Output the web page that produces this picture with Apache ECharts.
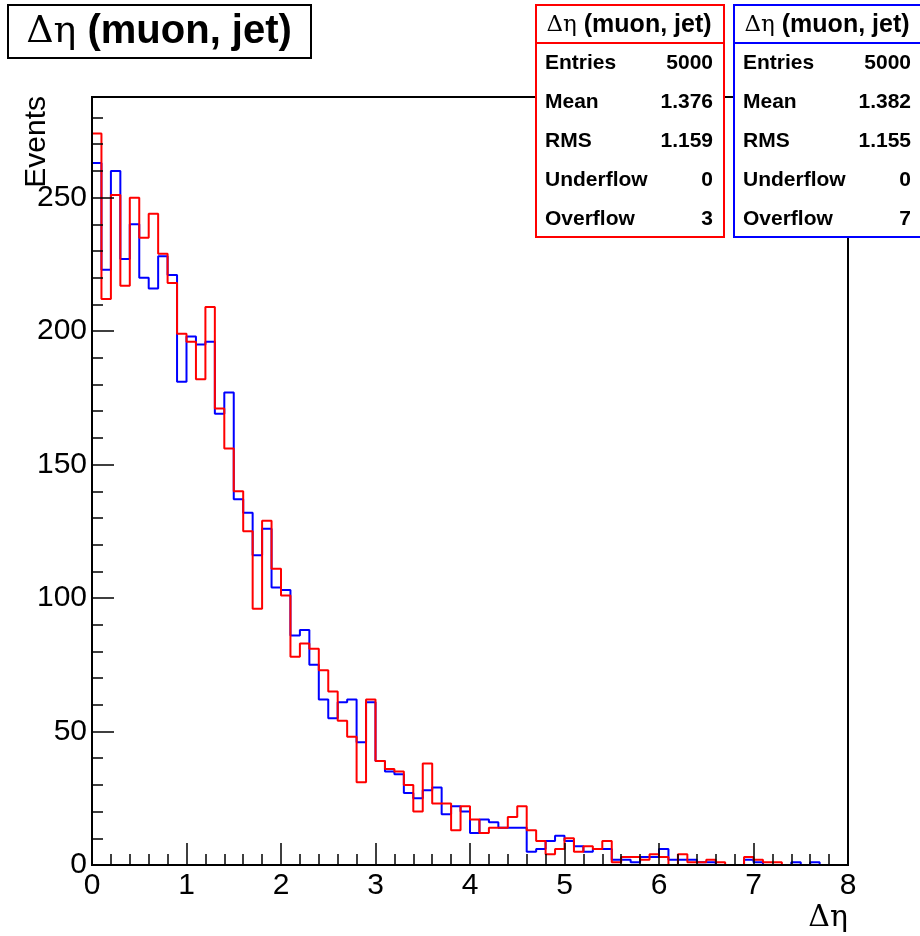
<!DOCTYPE html>
<html>
<head>
<meta charset="utf-8">
<title>Δη (muon, jet)</title>
<script src="https://cdn.jsdelivr.net/npm/echarts@6/dist/echarts.min.js"></script>
<style>
  html, body { margin: 0; padding: 0; background: #fff; }
  #chart { width: 920px; height: 936px; }
</style>
</head>
<body>
<div id="chart"></div>
<script>
// histogram binning: 80 bins from 0 to 8
const nBins = 80;
const xMin = 0;
const xMax = 8;
const yMax = 287.7;

// red histogram contents, bin by bin
const redCounts = [
  274, 212, 251, 217, 250, 235, 244, 229, 218, 199,
  196, 182, 209, 171, 156, 140, 125, 96, 129, 111,
  101, 78, 83, 81, 73, 65, 54, 48, 31, 62,
  39, 36, 35, 30, 20, 38, 23, 23, 13, 22,
  17, 12, 14, 14, 18, 22, 13, 9, 4, 6,
  10, 5, 7, 6, 9, 1, 3, 3, 2, 4,
  3, 0, 4, 1, 1, 2, 1, 0, 0, 3,
  2, 1, 1, 0, 0, 0, 0, 0, 0, 0
];

// blue histogram contents, bin by bin
const blueCounts = [
  263, 223, 260, 227, 240, 220, 216, 228, 221, 181,
  198, 195, 196, 169, 177, 137, 132, 116, 126, 104,
  103, 86, 88, 75, 62, 55, 61, 62, 46, 61,
  39, 35, 34, 27, 25, 28, 29, 19, 22, 20,
  12, 17, 16, 14, 14, 14, 5, 6, 9, 11,
  9, 7, 5, 6, 6, 2, 2, 1, 3, 3,
  6, 2, 2, 2, 1, 1, 0, 0, 0, 2,
  1, 0, 0, 0, 1, 0, 1, 0, 0, 0
];

// stats boxes
const statLabels = ['Entries', 'Mean', 'RMS', 'Underflow', 'Overflow'];
const redStats = ['5000', '1.376', '1.159', '0', '3'];
const blueStats = ['5000', '1.382', '1.155', '0', '7'];

const FONT = '"Liberation Sans", Arial, Helvetica, sans-serif';
const SYMBOL_FONT = '"DejaVu Serif", "Liberation Serif", serif';

// turn bin contents into outline points (left edges, closed to zero at both ends)
function outline(counts) {
  const w = (xMax - xMin) / nBins;
  const pts = [[xMin, 0]];
  counts.forEach((c, i) => pts.push([+(xMin + i * w).toFixed(3), c]));
  pts.push([xMax, counts[counts.length - 1]]);
  pts.push([xMax, 0]);
  return pts;
}

function statsBox(left, width, color, values) {
  const els = [];
  els.push({
    type: 'rect', z: 100,
    shape: { x: left, y: 5, width: width, height: 232 },
    style: { fill: '#fff', stroke: color, lineWidth: 2 }
  });
  els.push({
    type: 'line', z: 101,
    shape: { x1: left, y1: 43, x2: left + width, y2: 43 },
    style: { stroke: color, lineWidth: 2 }
  });
  els.push({
    type: 'text', z: 102, x: left + 93, y: 25,
    style: {
      text: '{s|Δη}{b| (muon, jet)}',
      align: 'center', verticalAlign: 'middle',
      rich: {
        s: { fontFamily: SYMBOL_FONT, fontSize: 23, fill: '#000' },
        b: { fontFamily: FONT, fontWeight: 'bold', fontSize: 25, fill: '#000' }
      }
    }
  });
  statLabels.forEach((lab, i) => {
    const y = 63 + i * 39;
    els.push({
      type: 'text', z: 102, x: left + 9, y: y,
      style: { text: lab, font: 'bold 21px ' + FONT, fill: '#000', align: 'left', verticalAlign: 'middle' }
    });
    els.push({
      type: 'text', z: 102, x: left + 177, y: y,
      style: { text: values[i], font: 'bold 21px ' + FONT, fill: '#000', align: 'right', verticalAlign: 'middle' }
    });
  });
  return els;
}

const chart = echarts.init(document.getElementById('chart'), null, { renderer: 'canvas' });

const option = {
  animation: false,
  backgroundColor: '#fff',
  grid: {
    left: 92, top: 97, right: 72, bottom: 71,
    show: true, borderColor: '#000', borderWidth: 2, backgroundColor: '#fff'
  },
  xAxis: {
    type: 'value', min: xMin, max: xMax, interval: 1, z: 10,
    axisLine: { show: true, onZero: false, lineStyle: { color: '#000', width: 2 } },
    axisTick: { show: true, inside: true, length: 22, lineStyle: { color: '#000', width: 1.5 } },
    minorTick: { show: true, splitNumber: 5, length: 11, lineStyle: { color: '#000', width: 1.5 } },
    axisLabel: { color: '#000', fontFamily: FONT, fontSize: 30, margin: 6 },
    splitLine: { show: false }
  },
  yAxis: [
    {
      type: 'value', min: 0, max: yMax, interval: 50, position: 'left', z: 10,
      axisLine: { show: true, onZero: false, lineStyle: { color: '#000', width: 2 } },
      axisTick: { show: true, inside: true, length: 22, lineStyle: { color: '#000', width: 1.5 } },
      axisLabel: {
        color: '#000', fontFamily: FONT, fontSize: 30, margin: 5,
        formatter: v => (v % 50 === 0 ? String(v) : '')
      },
      splitLine: { show: false }
    },
    {
      // minor ticks every 10 events
      type: 'value', min: 0, max: yMax, interval: 10, position: 'left', z: 10,
      axisLine: { show: false },
      axisTick: { show: true, inside: true, length: 11, lineStyle: { color: '#000', width: 1.5 } },
      axisLabel: { show: false },
      splitLine: { show: false }
    }
  ],
  series: [
    {
      name: 'blue', type: 'line', step: 'end', yAxisIndex: 0,
      data: outline(blueCounts), showSymbol: false, symbol: 'none',
      lineStyle: { color: '#0000ff', width: 2 }, z: 3
    },
    {
      name: 'red', type: 'line', step: 'end', yAxisIndex: 0,
      data: outline(redCounts), showSymbol: false, symbol: 'none',
      lineStyle: { color: '#ff0000', width: 2 }, z: 4
    }
  ],
  graphic: [
    // histogram title box
    {
      type: 'rect', z: 100,
      shape: { x: 8, y: 5, width: 303, height: 53 },
      style: { fill: '#fff', stroke: '#000', lineWidth: 2 }
    },
    {
      type: 'text', z: 101, x: 159, y: 32,
      style: {
        text: '{s|Δη}{b| (muon, jet)}',
        align: 'center', verticalAlign: 'middle',
        rich: {
          s: { fontFamily: SYMBOL_FONT, fontSize: 38, fill: '#000' },
          b: { fontFamily: FONT, fontWeight: 'bold', fontSize: 40, fill: '#000' }
        }
      }
    },
    // axis titles
    {
      type: 'text', z: 50, x: 52, y: 96, rotation: Math.PI / 2,
      style: { text: 'Events', font: '30px ' + FONT, fill: '#000', align: 'right', verticalAlign: 'bottom' }
    },
    {
      type: 'text', z: 50, x: 848, y: 918,
      style: { text: 'Δη', font: '30px ' + SYMBOL_FONT, fill: '#000', align: 'right', verticalAlign: 'middle' }
    },
    ...statsBox(536, 188, '#ff0000', redStats),
    ...statsBox(734, 188, '#0000ff', blueStats)
  ]
};

chart.setOption(option);
</script>
</body>
</html>
